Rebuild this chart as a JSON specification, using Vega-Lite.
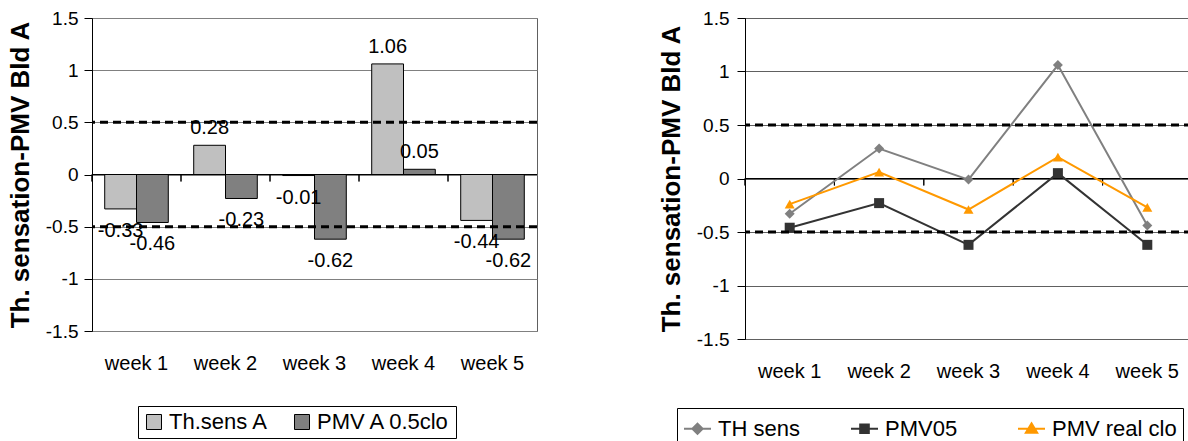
{
  "$schema": "https://vega.github.io/schema/vega-lite/v6.json",
  "padding": {"left": 6, "top": 8, "right": 0, "bottom": 0},
  "spacing": 118,
  "config": {
    "font": "Liberation Sans",
    "view": {"stroke": null},
    "axis": {"labelColor": "black", "titleColor": "black"},
    "axisX": {"title": null, "labelAngle": 0, "labelFontSize": 20, "ticks": false, "domain": false, "grid": false},
    "axisY": {
      "values": [-1.5, -1, -0.5, 0, 0.5, 1, 1.5],
      "labelExpr": "'' + datum.value",
      "grid": true, "gridColor": "#808080",
      "tickSize": 8, "tickColor": "black", "domainColor": "black",
      "labelFontSize": 19, "labelPadding": 6,
      "titleFontSize": 26, "titleFontWeight": "bold", "titlePadding": 12
    }
  },
  "datasets": {
    "bars": [
      {"week": "week 1", "series": "Th.sens A", "value": -0.33},
      {"week": "week 1", "series": "PMV A 0.5clo", "value": -0.46},
      {"week": "week 2", "series": "Th.sens A", "value": 0.28},
      {"week": "week 2", "series": "PMV A 0.5clo", "value": -0.23},
      {"week": "week 3", "series": "Th.sens A", "value": -0.01},
      {"week": "week 3", "series": "PMV A 0.5clo", "value": -0.62},
      {"week": "week 4", "series": "Th.sens A", "value": 1.06},
      {"week": "week 4", "series": "PMV A 0.5clo", "value": 0.05},
      {"week": "week 5", "series": "Th.sens A", "value": -0.44},
      {"week": "week 5", "series": "PMV A 0.5clo", "value": -0.62}
    ],
    "lines": [
      {"week": "week 1", "series": "TH sens", "value": -0.33},
      {"week": "week 2", "series": "TH sens", "value": 0.28},
      {"week": "week 3", "series": "TH sens", "value": -0.01},
      {"week": "week 4", "series": "TH sens", "value": 1.06},
      {"week": "week 5", "series": "TH sens", "value": -0.44},
      {"week": "week 1", "series": "PMV05", "value": -0.46},
      {"week": "week 2", "series": "PMV05", "value": -0.23},
      {"week": "week 3", "series": "PMV05", "value": -0.62},
      {"week": "week 4", "series": "PMV05", "value": 0.05},
      {"week": "week 5", "series": "PMV05", "value": -0.62},
      {"week": "week 1", "series": "PMV real clo", "value": -0.24},
      {"week": "week 2", "series": "PMV real clo", "value": 0.06},
      {"week": "week 3", "series": "PMV real clo", "value": -0.29},
      {"week": "week 4", "series": "PMV real clo", "value": 0.2},
      {"week": "week 5", "series": "PMV real clo", "value": -0.27}
    ],
    "limits": [{"limit": 0.5}, {"limit": -0.5}],
    "zero": [{"base": 0}]
  },
  "resolve": {
    "scale": {"x": "independent", "y": "independent", "color": "independent"},
    "legend": {"color": "independent"}
  },
  "hconcat": [
    {
      "width": 445,
      "height": 313,
      "view": {"stroke": "#606060", "strokeWidth": 1},
      "encoding": {
        "x": {"field": "week", "type": "nominal", "scale": {"paddingInner": 0, "paddingOuter": 0}, "axis": {"labelPadding": 22}},
        "y": {"field": "value", "type": "quantitative", "scale": {"domain": [-1.5, 1.5], "nice": false}, "axis": {"title": "Th. sensation-PMV Bld A"}}
      },
      "layer": [
        {
          "data": {"name": "bars"},
          "mark": {"type": "bar", "stroke": "black", "strokeWidth": 1},
          "encoding": {
            "xOffset": {"field": "series", "sort": ["Th.sens A", "PMV A 0.5clo"], "scale": {"paddingInner": 0, "paddingOuter": 0.4}},
            "color": {
              "field": "series", "type": "nominal",
              "scale": {"domain": ["Th.sens A", "PMV A 0.5clo"], "range": ["#C0C0C0", "#808080"]},
              "legend": {
                "title": null, "orient": "none", "legendX": 46, "legendY": 388, "direction": "horizontal",
                "strokeColor": "black", "fillColor": "white", "padding": 5,
                "labelFontSize": 22, "labelColor": "black",
                "symbolType": "square", "symbolSize": 225, "symbolStrokeColor": "black", "symbolStrokeWidth": 1,
                "symbolOpacity": 1, "columnPadding": 22, "labelOffset": 4
              }
            }
          }
        },
        {
          "data": {"name": "zero"},
          "mark": {"type": "rule", "color": "black", "strokeWidth": 1},
          "encoding": {"x": null, "y": {"field": "base", "type": "quantitative", "axis": {"title": "Th. sensation-PMV Bld A"}}}
        },
        {
          "data": {"name": "bars"},
          "mark": {"type": "rule", "color": "black", "strokeWidth": 1},
          "encoding": {
            "x": {"field": "week", "type": "nominal", "bandPosition": 0},
            "y": {"datum": 0, "type": "quantitative"},
            "y2": {"datum": -0.067}
          }
        },
        {
          "data": {"name": "limits"},
          "mark": {"type": "rule", "color": "black", "strokeWidth": 3, "strokeDash": [8, 5]},
          "encoding": {"x": null, "y": {"field": "limit", "type": "quantitative", "axis": {"title": "Th. sensation-PMV Bld A"}}}
        },
        {
          "data": {"name": "bars"},
          "transform": [{"filter": "datum.value >= 0"}, {"calculate": "'' + datum.value", "as": "label"}],
          "mark": {"type": "text", "baseline": "alphabetic", "dy": -11, "fontSize": 20, "color": "black"},
          "encoding": {
            "xOffset": {"field": "series", "sort": ["Th.sens A", "PMV A 0.5clo"], "scale": {"paddingInner": 0, "paddingOuter": 0.4}},
            "text": {"field": "label"}
          }
        },
        {
          "data": {"name": "bars"},
          "transform": [{"filter": "datum.value < 0"}, {"calculate": "'' + datum.value", "as": "label"}],
          "mark": {"type": "text", "baseline": "top", "dy": 12, "fontSize": 20, "color": "black"},
          "encoding": {
            "xOffset": {"field": "series", "sort": ["Th.sens A", "PMV A 0.5clo"], "scale": {"paddingInner": 0, "paddingOuter": 0.4}},
            "text": {"field": "label"}
          }
        }
      ]
    },
    {
      "width": 447,
      "height": 321,
      "view": {"stroke": "black", "strokeWidth": 1},
      "encoding": {
        "x": {"field": "week", "type": "nominal", "scale": {"type": "band", "paddingInner": 0, "paddingOuter": 0}, "axis": {"labelPadding": 22}},
        "y": {"field": "value", "type": "quantitative", "scale": {"domain": [-1.5, 1.5], "nice": false}, "axis": {"title": "Th. sensation-PMV Bld A", "gridColor": "#606060", "labelPadding": 8}}
      },
      "layer": [
        {
          "data": {"name": "zero"},
          "mark": {"type": "rule", "color": "black", "strokeWidth": 1},
          "encoding": {"x": null, "y": {"field": "base", "type": "quantitative", "axis": {"title": "Th. sensation-PMV Bld A", "gridColor": "#606060", "labelPadding": 8}}}
        },
        {
          "data": {"name": "bars"},
          "mark": {"type": "rule", "color": "black", "strokeWidth": 1},
          "encoding": {
            "x": {"field": "week", "type": "nominal", "bandPosition": 0},
            "y": {"datum": 0, "type": "quantitative"},
            "y2": {"datum": -0.065}
          }
        },
        {
          "data": {"name": "lines"},
          "mark": {"type": "line", "strokeWidth": 2},
          "encoding": {
            "color": {
              "field": "series", "type": "nominal",
              "scale": {"domain": ["TH sens", "PMV05", "PMV real clo"], "range": ["#808080", "#333333", "#FF9900"]},
              "legend": {
                "title": null, "orient": "none", "legendX": -68, "legendY": 390, "direction": "horizontal",
                "strokeColor": "black", "fillColor": "white", "padding": 6,
                "labelFontSize": 22, "labelColor": "black",
                "symbolSize": 729, "symbolStrokeWidth": 2, "gridAlign": "all", "columnPadding": 4, "labelOffset": 6,
                "encode": {
                  "symbols": {
                    "update": {
                      "shape": {"signal": "datum.value === 'TH sens' ? 'M-1,0H1M0,-0.38L0.38,0L0,0.38L-0.38,0Z' : datum.value === 'PMV05' ? 'M-1,0H1M-0.32,-0.32H0.32V0.32H-0.32Z' : 'M-1,0H1M0,-0.4L0.42,0.3H-0.42Z'"},
                      "fill": {"signal": "datum.value === 'TH sens' ? '#808080' : datum.value === 'PMV05' ? '#333333' : '#FF9900'"},
                      "stroke": {"signal": "datum.value === 'TH sens' ? '#808080' : datum.value === 'PMV05' ? '#333333' : '#FF9900'"},
                      "opacity": {"value": 1}
                    }
                  }
                }
              }
            }
          }
        },
        {
          "data": {"name": "lines"},
          "mark": {"type": "point", "filled": true, "size": 100, "opacity": 1},
          "encoding": {
            "color": {"field": "series", "type": "nominal", "scale": {"domain": ["TH sens", "PMV05", "PMV real clo"], "range": ["#808080", "#333333", "#FF9900"]}},
            "shape": {"field": "series", "type": "nominal", "scale": {"domain": ["TH sens", "PMV05", "PMV real clo"], "range": ["diamond", "square", "triangle-up"]}, "legend": null}
          }
        },
        {
          "data": {"name": "limits"},
          "mark": {"type": "rule", "color": "black", "strokeWidth": 3, "strokeDash": [8, 5]},
          "encoding": {"x": null, "y": {"field": "limit", "type": "quantitative", "axis": {"title": "Th. sensation-PMV Bld A", "gridColor": "#606060", "labelPadding": 8}}}
        }
      ]
    }
  ]
}
